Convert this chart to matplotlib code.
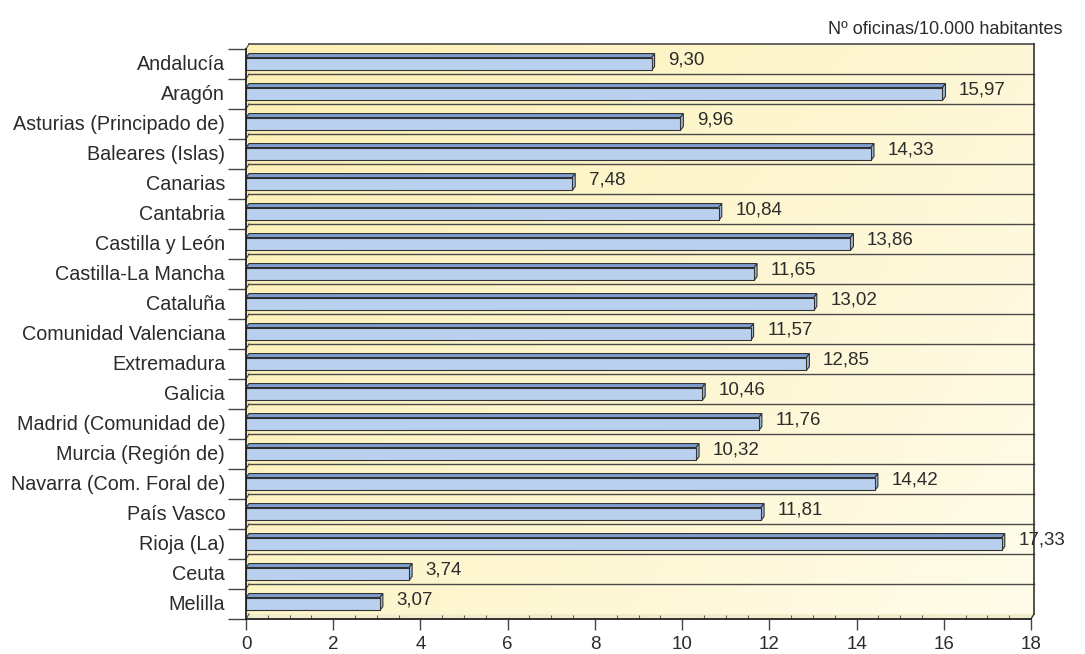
import matplotlib
matplotlib.use('Agg')
import matplotlib.pyplot as plt
import matplotlib.patches as patches
import numpy as np

# Data
regions = ['Andalucía', 'Aragón', 'Asturias (Principado de)', 'Baleares (Islas)',
           'Canarias', 'Cantabria', 'Castilla y León', 'Castilla-La Mancha',
           'Cataluña', 'Comunidad Valenciana', 'Extremadura', 'Galicia',
           'Madrid (Comunidad de)', 'Murcia (Región de)', 'Navarra (Com. Foral de)',
           'País Vasco', 'Rioja (La)', 'Ceuta', 'Melilla']
offices = [9.30, 15.97, 9.96, 14.33, 7.48, 10.84, 13.86, 11.65, 13.02, 11.57,
           12.85, 10.46, 11.76, 10.32, 14.42, 11.81, 17.33, 3.74, 3.07]
x_ticks = [0, 2, 4, 6, 8, 10, 12, 14, 16, 18]
unit_label = 'Nº oficinas/10.000 habitantes'

plt.rcParams['font.family'] = ['Liberation Sans', 'DejaVu Sans']

# Colors
c_text = '#2b2b2b'
c_line = '#333333'
c_front = '#b9d0ee'
c_top = '#7e9ecd'
c_side = '#9fbbe0'

fig = plt.figure(figsize=(10.85, 6.54), dpi=100)
ax = fig.add_axes([246 / 1085, 35 / 654, 785 / 1085, 570 / 654])
n = len(regions)
xmax = x_ticks[-1]
ax.set_xlim(0, xmax)
ax.set_ylim(n - 0.5, -0.5)

# 3D depth offset in data units (~3px right, ~5px up)
dx = 3 / (785 / xmax)
dy = -5 / (570 / n)
dy_bar = -4 / (570 / n)

# Back wall with gradient
gx, gy = np.meshgrid(np.linspace(0, 1, 200), np.linspace(0, 1, 200))
t = np.clip(0.65 * gx + 0.35 * gy, 0, 1)
c0 = np.array([253, 240, 180]) / 255
c1 = np.array([255, 252, 234]) / 255
grad = c0[None, None, :] * (1 - t[..., None]) + c1[None, None, :] * t[..., None]
im = ax.imshow(grad, extent=(dx, xmax + dx, n - 0.5 + dy, -0.5 + dy),
               aspect='auto', zorder=0, interpolation='bilinear')
im.set_clip_on(False)

# Left wall and floor
ax.add_patch(patches.Polygon([(0, -0.5), (dx, -0.5 + dy), (dx, n - 0.5 + dy), (0, n - 0.5)],
                             closed=True, facecolor='#f6ebb5', edgecolor='none',
                             zorder=0.5, clip_on=False))
ax.add_patch(patches.Polygon([(0, n - 0.5), (xmax, n - 0.5), (xmax + dx, n - 0.5 + dy), (dx, n - 0.5 + dy)],
                             closed=True, facecolor='#f3eccb', edgecolor='none',
                             zorder=0.5, clip_on=False))

# Gridlines on back wall + connectors on left wall
for k in range(n + 1):
    yb = k - 0.5
    lw = 1.2 if k == 0 else 1.0
    if k < n:
        ax.plot([dx, xmax + dx], [yb + dy, yb + dy], color='#4a4a4a', lw=lw, zorder=1, clip_on=False)
    ax.plot([0, dx], [yb, yb + dy], color='#4a4a4a', lw=0.8, zorder=1, clip_on=False)

# Back wall right border and bottom-right corner
ax.plot([xmax + dx, xmax + dx], [-0.5 + dy, n - 0.5 + dy], color=c_line, lw=1.2, zorder=1, clip_on=False)
ax.plot([xmax, xmax + dx], [n - 0.5, n - 0.5 + dy], color=c_line, lw=1.0, zorder=1, clip_on=False)

# 3D bars
h = 0.43
for i, v in enumerate(offices):
    y0, y1 = i - h / 2, i + h / 2
    ax.add_patch(patches.Polygon([(0, y0), (v, y0), (v + dx, y0 + dy_bar), (dx, y0 + dy_bar)], closed=True,
                                 facecolor=c_top, edgecolor=c_line, lw=0.8, zorder=3, clip_on=False))
    ax.add_patch(patches.Polygon([(v, y0), (v + dx, y0 + dy_bar), (v + dx, y1 + dy_bar), (v, y1)], closed=True,
                                 facecolor=c_side, edgecolor=c_line, lw=0.8, zorder=3, clip_on=False))
    ax.add_patch(patches.Rectangle((0, y0), v, h, facecolor=c_front, edgecolor=c_line,
                                   lw=0.8, zorder=4, clip_on=False))
    ax.text(v + 0.38, i - 0.13, f'{v:.2f}'.replace('.', ','), ha='left', va='center',
            fontsize=13.5, color=c_text, zorder=5, clip_on=False)

# Axes styling
for s in ('top', 'right'):
    ax.spines[s].set_visible(False)
for s in ('left', 'bottom'):
    ax.spines[s].set_color('#222222')
    ax.spines[s].set_linewidth(1.3)
    ax.spines[s].set_zorder(6)

ax.set_xticks(x_ticks)
ax.set_xticks(np.arange(0, xmax + 0.01, 0.5), minor=True)
ax.tick_params(axis='x', which='major', length=8, width=1, color='#444444',
               direction='out', pad=4, labelsize=13.5, labelcolor=c_text)
ax.tick_params(axis='x', which='minor', length=3, width=0.8, color='#666666', direction='in')

ax.set_yticks(np.arange(-0.5, n, 1.0))
ax.set_yticklabels([])
ax.set_yticks(np.arange(n) - 0.06, minor=True)
ax.set_yticklabels(regions, minor=True)
ax.tick_params(axis='y', which='major', length=13, width=1, color='#444444', direction='out')
ax.tick_params(axis='y', which='minor', length=0, pad=15, labelsize=14.2, labelcolor=c_text)

fig.text(1062 / 1085, 1 - 29 / 654, unit_label, ha='right', va='center', fontsize=13, color=c_text)

fig.savefig('out.png', dpi=100)
plt.close(fig)
